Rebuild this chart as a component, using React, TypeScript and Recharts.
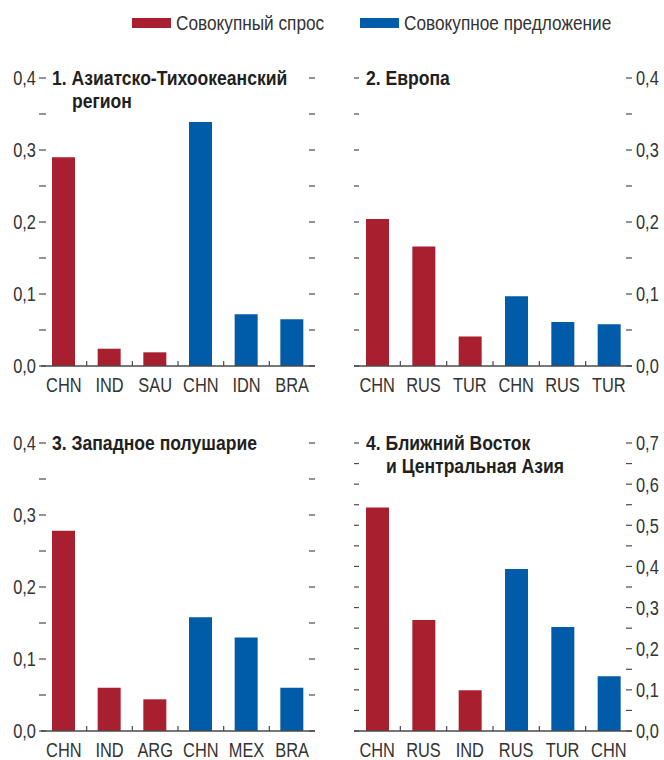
import { BarChart, Bar, XAxis, YAxis, Cell } from "recharts";

const RED = "#a81f2f";
const BLUE = "#005ba9";
const INK = "#333";
const AXIS = "#4a4a4a";
const FONT = "'Liberation Sans', Arial, sans-serif";

// значения по панелям: первые три — спрос, последние три — предложение
const P1_CATS = ["CHN", "IND", "SAU", "CHN", "IDN", "BRA"];
const P1_VALUES = [0.29, 0.024, 0.019, 0.339, 0.072, 0.065];

const P2_CATS = ["CHN", "RUS", "TUR", "CHN", "RUS", "TUR"];
const P2_VALUES = [0.204, 0.166, 0.041, 0.097, 0.061, 0.058];

const P3_CATS = ["CHN", "IND", "ARG", "CHN", "MEX", "BRA"];
const P3_VALUES = [0.278, 0.06, 0.044, 0.158, 0.13, 0.06];

const P4_CATS = ["CHN", "RUS", "IND", "RUS", "TUR", "CHN"];
const P4_VALUES = [0.543, 0.27, 0.099, 0.394, 0.253, 0.133];

const SIDES = ["demand", "demand", "demand", "supply", "supply", "supply"];

const TICKS_04 = [0, 0.05, 0.1, 0.15, 0.2, 0.25, 0.3, 0.35, 0.4];
const TICKS_07 = [0, 0.05, 0.1, 0.15, 0.2, 0.25, 0.3, 0.35, 0.4, 0.45, 0.5, 0.55, 0.6, 0.65, 0.7];

const LEGEND = [
  { label: "Совокупный спрос", color: RED, x: 132 },
  { label: "Совокупное предложение", color: BLUE, x: 360 },
];

const isMajor = (v: number) => Math.abs(v * 10 - Math.round(v * 10)) < 1e-6;
const fmt = (v: number) => v.toFixed(1).replace(".", ",");

// narrow-looking label: regular font squeezed horizontally
// eslint-disable-next-line @typescript-eslint/no-explicit-any
function Narrow({ x, y, anchor, children, dy }: any) {
  return (
    <g transform={`translate(${x},${y}) scale(0.8,1)`}>
      <text x={0} y={0} dy={dy} textAnchor={anchor} fontSize={20.5} fill={INK} fontFamily={FONT}>
        {children}
      </text>
    </g>
  );
}

// eslint-disable-next-line @typescript-eslint/no-explicit-any
function YTick({ x, y, payload, side, plotW }: any) {
  const label = isMajor(payload.value) ? fmt(payload.value) : null;
  if (side === "left") {
    return (
      <g>
        <line x1={x - 2} x2={x + 5} y1={y} y2={y} stroke={AXIS} strokeWidth={1.2} />
        <line x1={x + plotW - 6} x2={x + plotW} y1={y} y2={y} stroke={AXIS} strokeWidth={1.2} />
        {label && <Narrow x={x - 5} y={y} dy="0.36em" anchor="end">{label}</Narrow>}
      </g>
    );
  }
  return (
    <g>
      <line x1={x - 6} x2={x} y1={y} y2={y} stroke={AXIS} strokeWidth={1.2} />
      <line x1={x - plotW} x2={x - plotW + 5} y1={y} y2={y} stroke={AXIS} strokeWidth={1.2} />
      {label && <Narrow x={x + 4} y={y} dy="0.36em" anchor="start">{label}</Narrow>}
    </g>
  );
}

// eslint-disable-next-line @typescript-eslint/no-explicit-any
function CatTick({ x, y, payload, band, cats }: any) {
  const i = payload.value as number;
  return (
    <g>
      {i > 0 && (
        <line x1={x - band / 2} x2={x - band / 2} y1={y} y2={y - 5} stroke={AXIS} strokeWidth={1.2} />
      )}
      <Narrow x={x} y={y + 26} anchor="middle">{cats[i]}</Narrow>
    </g>
  );
}

interface PanelProps {
  left: number;
  top: number;
  height: number;
  side: "left" | "right";
  cats: string[];
  values: number[];
  ticks: number[];
  max: number;
  title: string[];
}

function Panel({ left, top, height, side, cats, values, ticks, max, title }: PanelProps) {
  const width = 330;
  const leftW = side === "left" ? 41 : 20;
  const rightW = side === "left" ? 15 : 32;
  const plotW = width - leftW - rightW;
  const xH = height - 18 - 288;
  const band = plotW / cats.length;
  const rows = values.map((v, i) => ({ key: i, value: v, side: SIDES[i] }));
  const titleX = side === "left" ? 52 : 32;

  return (
    <div style={{ position: "absolute", left, top, width, height }}>
      <BarChart
        width={width}
        height={height}
        data={rows}
        margin={{ top: 18, right: side === "left" ? rightW : 0, bottom: 0, left: side === "left" ? 0 : leftW }}
        barCategoryGap={0}
      >
        <XAxis
          dataKey="key"
          height={xH}
          interval={0}
          tickSize={0}
          tickMargin={0}
          axisLine={{ stroke: AXIS, strokeWidth: 1.5 }}
          tick={<CatTick band={band} cats={cats} />}
        />
        <YAxis
          orientation={side}
          width={side === "left" ? leftW : rightW}
          domain={[0, max]}
          ticks={ticks}
          interval={0}
          tickSize={0}
          tickMargin={0}
          axisLine={false}
          tickLine={false}
          tick={<YTick side={side} plotW={plotW} />}
        />
        <Bar dataKey="value" barSize={23} isAnimationActive={false}>
          {rows.map((r) => (
            <Cell key={r.key} fill={r.side === "demand" ? RED : BLUE} />
          ))}
        </Bar>
      </BarChart>
      {title.map((line, i) => (
        <div
          key={i}
          style={{
            position: "absolute",
            left: titleX + (i > 0 ? 20 : 0),
            top: 18 - 12 + i * 23,
            fontFamily: FONT,
            fontWeight: "bold",
            fontSize: 19.5,
            lineHeight: "24px",
            color: "#231f20",
            whiteSpace: "nowrap",
            transform: "scaleX(0.9)",
            transformOrigin: "left center",
          }}
        >
          {line}
        </div>
      ))}
    </div>
  );
}

export default function App() {
  return (
    <div style={{ position: "absolute", left: 0, top: 0, width: 664, height: 760, background: "#fff", fontFamily: FONT }}>
      {LEGEND.map((l) => (
        <div key={l.label} style={{ position: "absolute", left: l.x, top: 12, display: "flex", alignItems: "center", gap: 5 }}>
          <span style={{ display: "inline-block", width: 39, height: 10, background: l.color }} />
          <span
            style={{
              fontSize: 20.5,
              color: INK,
              lineHeight: "22px",
              whiteSpace: "nowrap",
              display: "inline-block",
              transform: "scaleX(0.84)",
              transformOrigin: "left center",
            }}
          >
            {l.label}
          </span>
        </div>
      ))}
      <Panel left={0} top={60} height={340} side="left" cats={P1_CATS} values={P1_VALUES} ticks={TICKS_04} max={0.4}
        title={["1. Азиатско-Тихоокеанский", "регион"]} />
      <Panel left={334} top={60} height={340} side="right" cats={P2_CATS} values={P2_VALUES} ticks={TICKS_04} max={0.4}
        title={["2. Европа"]} />
      <Panel left={0} top={425} height={335} side="left" cats={P3_CATS} values={P3_VALUES} ticks={TICKS_04} max={0.4}
        title={["3. Западное полушарие"]} />
      <Panel left={334} top={425} height={335} side="right" cats={P4_CATS} values={P4_VALUES} ticks={TICKS_07} max={0.7}
        title={["4. Ближний Восток", "и Центральная Азия"]} />
    </div>
  );
}
